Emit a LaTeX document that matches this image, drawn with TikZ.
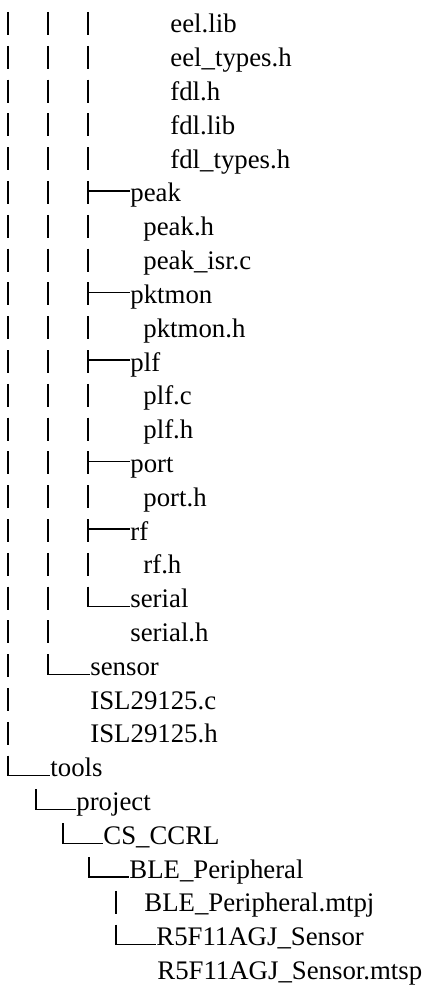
\documentclass[tikz,border=0pt]{standalone}
\usepackage{fontspec}
\setmainfont{Liberation Serif}

\begin{document}
\begin{tikzpicture}[
    x=0.5pt, y=-16.9pt,
    entry/.style={anchor=base west, inner sep=0pt, font=\fontsize{13.4pt}{16pt}\selectfont},
    tree/.style={line width=0.55pt, line cap=butt}
  ]
  \useasboundingbox (0,0) rectangle (425,{989/33.8});

  \begin{scope}[yshift=-16.5pt]
    % files of the last library folder
    \node[entry] (eellib)   at (170,0) {eel.lib};
    \node[entry] (eeltypes) at (170,1) {eel\_types.h};
    \node[entry] (fdlh)     at (170,2) {fdl.h};
    \node[entry] (fdllib)   at (170,3) {fdl.lib};
    \node[entry] (fdltypes) at (170,4) {fdl\_types.h};

    % driver folders
    \node[entry] (peak)     at (130,5)  {peak};
    \node[entry] (peakh)    at (143,6)  {peak.h};
    \node[entry] (peakisr)  at (143,7)  {peak\_isr.c};
    \node[entry] (pktmon)   at (130,8)  {pktmon};
    \node[entry] (pktmonh)  at (143,9)  {pktmon.h};
    \node[entry] (plf)      at (130,10) {plf};
    \node[entry] (plfc)     at (143,11) {plf.c};
    \node[entry] (plfh)     at (143,12) {plf.h};
    \node[entry] (port)     at (130,13) {port};
    \node[entry] (porth)    at (143,14) {port.h};
    \node[entry] (rf)       at (130,15) {rf};
    \node[entry] (rfh)      at (143,16) {rf.h};
    \node[entry] (serial)   at (130,17) {serial};
    \node[entry] (serialh)  at (130,18) {serial.h};

    \node[entry] (sensor)   at (90,19) {sensor};
    \node[entry] (islc)     at (90,20) {ISL29125.c};
    \node[entry] (islh)     at (90,21) {ISL29125.h};

    % project tree
    \node[entry] (tools)    at (50,22)  {tools};
    \node[entry] (project)  at (76,23)  {project};
    \node[entry] (csccrl)   at (103,24) {CS\_CCRL};
    \node[entry] (ble)      at (129,25) {BLE\_Peripheral};
    \node[entry] (blemtpj)  at (144,26) {BLE\_Peripheral.mtpj};
    \node[entry] (rsensor)  at (156,27) {R5F11AGJ\_Sensor};
    \node[entry] (rmtsp)    at (157,28) {R5F11AGJ\_Sensor.mtsp};

    % vertical bars, one per line
    \foreach \r in {0,...,21}
      \draw[tree] (8,\r) ++(0,10.5pt) -- ++(0,-11.5pt);
    \foreach \r in {0,...,18}
      \draw[tree] (48,\r) ++(0,10.5pt) -- ++(0,-11.5pt);
    \foreach \r in {0,...,16}
      \draw[tree] (88,\r) ++(0,10.5pt) -- ++(0,-11.5pt);
    \draw[tree] (116,26) ++(0,10.5pt) -- ++(0,-11.5pt);

    % branches
    \foreach \n/\r in {peak/5, pktmon/8, plf/10, port/13, rf/15}
      \draw[tree] ([yshift=5.5pt]88,\r) -- ([yshift=5.5pt]\n.base west);

    % last branches
    \foreach \x/\r/\n in {88/17/serial, 48/19/sensor, 8/22/tools, 36/23/project,
                          63/24/csccrl, 89/25/ble, 116/27/rsensor}
      \draw[tree] ([yshift=10.5pt]\x,\r) |- ([yshift=0.5pt]\n.base west);
  \end{scope}
\end{tikzpicture}
\end{document}
